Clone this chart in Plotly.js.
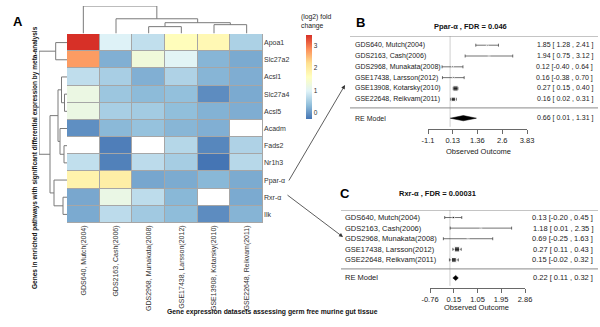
<!DOCTYPE html>
<html><head><meta charset="utf-8">
<script src="https://cdn.plot.ly/plotly-3.0.1.min.js"></script>
<style>html,body{margin:0;padding:0;background:#fff}#chart{width:600px;height:327px}</style>
</head><body><div id="chart"></div>
<script>
// ---------------- DATA ----------------
const genes = ['Apoa1','Slc27a2','Acsl1','Slc27a4','Acsl5','Acadm','Fads2','Nr1h3','Ppar-α','Rxr-α','Ilk'];
const datasets = ['GDS640, Mutch(2004)','GDS2163, Cash(2006)','GDS2968, Munakata(2008)','GSE17438, Larsson(2012)','GSE13908, Kotarsky(2010)','GSE22648, Reikvam(2011)'];
const logFC = [
  [3.50, 0.95, 0.72, 1.65, 1.75, 0.55],
  [2.75, 0.20, 1.30, 1.00, 0.25, 0.15],
  [0.70, 0.52, 0.20, 0.57, 0.25, 0.18],
  [1.20, 0.42, 0.30, 0.35, -0.10, 0.15],
  [1.20, 0.52, 0.48, 0.33, 0.22, 0.18],
  [-0.08, 0.28, 0.37, 0.26, 0.20, null],
  [null, -0.22, null, 0.62, -0.15, 0.57],
  [0.72, -0.20, 0.68, 0.50, -0.30, 0.64],
  [1.85, 1.94, 0.12, 0.16, 0.27, 0.16],
  [0.13, 1.18, 0.69, 0.27, null, 0.15],
  [0.15, 0.68, 0.46, 0.32, -0.10, 0.24]
];
const colorbarTicks = [0, 1, 2, 3];
// dendrogram linkages: [childA, childB, height]; leaves 0..n-1, merged nodes n, n+1, ...
const colLinks = [[2,3,7],[4,5,9],[6,7,11],[1,8,15],[0,9,28]];
const rowLinks = [[3,4,2.5],[2,11,5.5],[6,7,3],[5,13,7],[12,14,9],[9,10,4],[8,16,13],[15,17,17],[0,1,11.3],[19,18,28]];

const pparStudies = ['GDS640, Mutch(2004)','GDS2163, Cash(2006)','GDS2968, Munakata(2008)','GSE17438, Larsson(2012)','GSE13908, Kotarsky(2010)','GSE22648, Reikvam(2011)'];
const pparEst = [1.85, 1.94, 0.12, 0.16, 0.27, 0.16];
const pparLo  = [1.28, 0.75, -0.40, -0.38, 0.15, 0.02];
const pparHi  = [2.41, 3.12, 0.64, 0.70, 0.40, 0.31];
const pparRE  = [0.66, 0.01, 1.31];
const pparTicks = [-1.1, 0.13, 1.36, 2.6, 3.83];
const pparTitle = 'Ppar-α , FDR = 0.046';

const rxrStudies = ['GDS640, Mutch(2004)','GDS2163, Cash(2006)','GDS2968, Munakata(2008)','GSE17438, Larsson(2012)','GSE22648, Reikvam(2011)'];
const rxrEst = [0.13, 1.18, 0.69, 0.27, 0.15];
const rxrLo  = [-0.20, 0.01, -0.25, 0.11, -0.02];
const rxrHi  = [0.45, 2.35, 1.63, 0.43, 0.32];
const rxrRE  = [0.22, 0.11, 0.32];
const rxrTicks = [-0.76, 0.15, 1.05, 1.95, 2.86];
const rxrTitle = 'Rxr-α , FDR = 0.00031';

// ---------------- HELPERS ----------------
const W = 600, H = 327;
const PX = p => p / W;
const PY = p => 1 - p / H;
const FONT = 'Liberation Sans, Arial, sans-serif';

function dendro(links, n) {
  const pos = [], ht = [];
  for (let i = 0; i < n; i++) { pos.push(i); ht.push(0); }
  const a = [], b = [];
  links.forEach(([l, r, h]) => {
    a.push(pos[l], pos[l], pos[r], pos[r], null);
    b.push(ht[l], h, h, ht[r], null);
    pos.push((pos[l] + pos[r]) / 2); ht.push(h);
  });
  return {pos: a, h: b};
}
const maxH = arr => Math.max(...arr.map(l => l[2]));

const traces = [];
const shapes = [];
const annotations = [];

// heatmap
const colIdx = datasets.map((_, i) => i);
const rowIdx = genes.map((_, i) => i);
traces.push({
  type: 'heatmap', x: colIdx, y: rowIdx, z: logFC, xaxis: 'x', yaxis: 'y',
  xgap: 1, ygap: 1,
  colorscale: [[0,'#4575B4'],[1/6,'#91BFDB'],[2/6,'#E0F3F8'],[3/6,'#FFFFBF'],[4/6,'#FEE090'],[5/6,'#FC8D59'],[1,'#D73027']],
  colorbar: {
    x: PX(306), xanchor: 'left', y: PY(35), yanchor: 'top',
    len: 84, lenmode: 'pixels', thickness: 6, thicknessmode: 'pixels',
    xpad: 0, ypad: 0, outlinewidth: 0, ticks: '', tickvals: colorbarTicks,
    tickfont: {size: 6.5, family: FONT, color: '#333'}, ticklabelposition: 'outside'
  }
});
// missing cells drawn white
traces.push({
  type: 'heatmap', x: colIdx, y: rowIdx, xaxis: 'x', yaxis: 'y',
  z: logFC.map(r => r.map(v => v === null ? 1 : null)),
  xgap: 1, ygap: 1, showscale: false,
  colorscale: [[0,'#ffffff'],[1,'#ffffff']]
});
shapes.push({type:'rect', xref:'x', yref:'y', x0:-0.5, x1:5.5, y0:-0.5, y1:10.5,
  fillcolor:'#a6a6a6', line:{width:0}, layer:'below'});

// dendrograms
const cd = dendro(colLinks, datasets.length);
traces.push({type:'scatter', mode:'lines', x: cd.pos, y: cd.h, xaxis:'x2', yaxis:'y2',
  line:{color:'#7a7a7a', width:1}, hoverinfo:'skip'});
const rd = dendro(rowLinks, genes.length);
traces.push({type:'scatter', mode:'lines', x: rd.h, y: rd.pos, xaxis:'x3', yaxis:'y3',
  line:{color:'#7a7a7a', width:1}, hoverinfo:'skip'});

// forest plots
function fmt(v) { const s = v.toFixed(2); return v < 0 ? s : ' ' + s; }
function ciText(e, l, h) { return e.toFixed(2) + ' [' + fmt(l) + ' ,' + fmt(h) + ' ]'; }

function forest(cfg, studies, est, lo, hi, re, ticks, title) {
  const k = studies.length;
  const ys = studies.map((_, i) => cfg.lastY + (k - 1 - i));
  const w = lo.map((l, i) => 1 / Math.pow((hi[i] - l) / 3.92, 2));
  const wmin = Math.min(...w), wmax = Math.max(...w);
  const sizes = w.map(v => 1.6 + 3.6 * (v - wmin) / (wmax - wmin));
  traces.push({type:'scatter', mode:'markers', x: est, y: ys, xaxis: cfg.xa, yaxis: cfg.ya,
    marker:{symbol:'square', size: sizes, color:'#000'},
    error_x:{type:'data', symmetric:false, array: hi.map((h, i) => h - est[i]),
      arrayminus: lo.map((l, i) => est[i] - l), thickness: 0.7, width: 1.5, color:'#333'},
    cliponaxis:false, hoverinfo:'skip'});
  const dh = 0.24;
  traces.push({type:'scatter', mode:'lines', fill:'toself', fillcolor:'#000',
    x:[re[1], re[0], re[2], re[0], re[1]], y:[cfg.reY, cfg.reY + dh, cfg.reY, cfg.reY - dh, cfg.reY],
    xaxis: cfg.xa, yaxis: cfg.ya, line:{color:'#000', width:0.5}, cliponaxis:false, hoverinfo:'skip'});
  const yr = cfg.ya.replace('y', 'y');
  shapes.push({type:'line', xref:'paper', yref: cfg.ya, x0: PX(cfg.lineX0), x1: PX(598), y0: cfg.ytop, y1: cfg.ytop, line:{color:'#8a8a8a', width:1}});
  shapes.push({type:'line', xref:'paper', yref: cfg.ya, x0: PX(cfg.lineX0), x1: PX(598), y0: cfg.sepY, y1: cfg.sepY, line:{color:'#8a8a8a', width:1}});
  shapes.push({type:'line', xref: cfg.xa, yref: cfg.ya, x0: 0, x1: 0, y0: 0.2, y1: cfg.ytop, line:{color:'#c4c4c4', width:0.8}, layer:'below'});
  const f = {size: cfg.fs, family: FONT, color:'#222'};
  studies.forEach((s, i) => {
    annotations.push({xref:'paper', yref: cfg.ya, x: PX(cfg.labelX), y: ys[i], xanchor:'left', yanchor:'middle', text: s, showarrow:false, font: f});
    annotations.push({xref:'paper', yref: cfg.ya, x: PX(595), y: ys[i], xanchor:'right', yanchor:'middle', text: ciText(est[i], lo[i], hi[i]), showarrow:false, font: f});
  });
  annotations.push({xref:'paper', yref: cfg.ya, x: PX(cfg.labelX), y: cfg.reY, xanchor:'left', yanchor:'middle', text:'RE Model', showarrow:false, font: f});
  annotations.push({xref:'paper', yref: cfg.ya, x: PX(595), y: cfg.reY, xanchor:'right', yanchor:'middle', text: ciText(re[0], re[1], re[2]), showarrow:false, font: f});
  annotations.push({xref:'paper', yref:'paper', x: PX(cfg.titleX), y: PY(cfg.titleY), xanchor:'center', yanchor:'middle', text:'<b>' + title + '</b>', showarrow:false, font:{size:7.5, family: FONT, color:'#111'}});
  annotations.push({xref:'paper', yref:'paper', x: PX(cfg.outX), y: PY(cfg.outY), xanchor:'center', yanchor:'middle', text:'Observed Outcome', showarrow:false, font:{size:7.5, family: FONT, color:'#222'}});
  return {
    x: {domain:[PX(cfg.xdom[0]), PX(cfg.xdom[1])], range:[ticks[0], ticks[ticks.length-1]], anchor: cfg.ya,
        tickvals: ticks, ticktext: ticks.map(String), ticks:'outside', ticklen:4, tickwidth:0.8, tickcolor:'#444',
        showline:true, linecolor:'#444', linewidth:0.8, showgrid:false, zeroline:false,
        tickfont:{size:7.5, family: FONT, color:'#222'}},
    y: {domain:[PY(cfg.ydom[1]), PY(cfg.ydom[0])], range:[0, cfg.ytop], anchor: cfg.xa, visible:false}
  };
}

const axB = forest({xa:'x4', ya:'y4', xdom:[428,527], ydom:[36,129], ytop:8.6, lastY:2.75, reY:1, sepY:1.95,
  labelX:353, lineX0:350, titleX:470, titleY:27, outX:478, outY:152, fs:7},
  pparStudies, pparEst, pparLo, pparHi, pparRE, pparTicks, pparTitle);
const axC = forest({xa:'x5', ya:'y5', xdom:[430,525], ydom:[210,288], ytop:7.36, lastY:2.65, reY:0.95, sepY:1.8,
  labelX:343, lineX0:341, titleX:437, titleY:193, outX:476, outY:307, fs:7.5},
  rxrStudies, rxrEst, rxrLo, rxrHi, rxrRE, rxrTicks, rxrTitle);

// text annotations
const big = {size:13, family: FONT, color:'#000'};
annotations.push({xref:'paper', yref:'paper', x: PX(11), y: PY(12), text:'<b>A</b>', showarrow:false, font: big});
annotations.push({xref:'paper', yref:'paper', x: PX(360), y: PY(13), text:'<b>B</b>', showarrow:false, font: big});
annotations.push({xref:'paper', yref:'paper', x: PX(345), y: PY(193), text:'<b>C</b>', showarrow:false, font: big});
annotations.push({xref:'paper', yref:'paper', x: PX(165), y: PY(318), text:'<b>Gene expression datasets assessing germ free murine gut tissue</b>', showarrow:false, font:{size:6.8, family: FONT, color:'#111'}});
annotations.push({xref:'paper', yref:'paper', x: PX(29), y: PY(158), textangle:-90, text:'<b>Genes in enriched pathways with significant differential expression by meta-analysis</b>', showarrow:false, font:{size:6.5, family: FONT, color:'#111'}});
annotations.push({xref:'paper', yref:'paper', x: PX(299), y: PY(21), xanchor:'left', yanchor:'middle', align:'left', text:'(log2) fold<br>change', showarrow:false, font:{size:6.8, family: FONT, color:'#222'}});
// arrows
annotations.push({xref:'paper', yref:'paper', x: PX(345), y: PY(85), ax: -57, ay: 97, text:'', showarrow:true, arrowhead:2, arrowsize:1, arrowwidth:0.8, arrowcolor:'#333'});
annotations.push({xref:'paper', yref:'paper', x: PX(343), y: PY(237), ax: -57, ay: -43, text:'', showarrow:true, arrowhead:2, arrowsize:1, arrowwidth:0.8, arrowcolor:'#333'});

const layout = {
  width: W, height: H, margin:{l:0, r:0, t:0, b:0}, showlegend:false,
  paper_bgcolor:'#fff', plot_bgcolor:'rgba(0,0,0,0)', font:{family: FONT},
  xaxis: {domain:[PX(67), PX(263)], range:[-0.5, 5.5], anchor:'y', tickvals: colIdx, ticktext: datasets,
    tickangle:-90, ticks:'', showgrid:false, zeroline:false, showline:false,
    tickfont:{size:7, family: FONT, color:'#333'}},
  yaxis: {domain:[PY(223), PY(34)], range:[10.5, -0.5], anchor:'x', side:'right', tickvals: rowIdx, ticktext: genes,
    ticks:'', showgrid:false, zeroline:false, showline:false, tickfont:{size:7, family: FONT, color:'#333'}},
  xaxis2: {domain:[PX(67), PX(263)], range:[-0.5, 5.5], anchor:'y2', visible:false},
  yaxis2: {domain:[PY(33.5), PY(6)], range:[0, maxH(colLinks)], anchor:'x2', visible:false},
  xaxis3: {domain:[PX(39), PX(67)], range:[maxH(rowLinks), 0], anchor:'y3', visible:false},
  yaxis3: {domain:[PY(223), PY(34)], range:[10.5, -0.5], anchor:'x3', visible:false},
  xaxis4: axB.x, yaxis4: axB.y, xaxis5: axC.x, yaxis5: axC.y,
  shapes: shapes, annotations: annotations
};
Plotly.newPlot('chart', traces, layout, {staticPlot:true, displayModeBar:false});
</script></body></html>
